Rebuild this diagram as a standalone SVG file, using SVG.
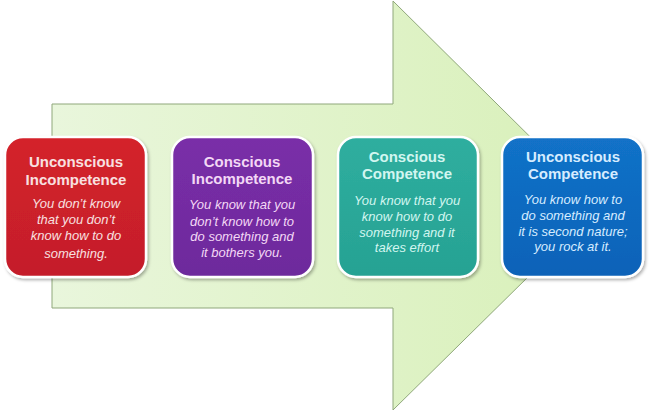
<svg xmlns="http://www.w3.org/2000/svg" width="650" height="416" viewBox="0 0 650 416">
<defs>
<linearGradient id="gArrow" x1="0" y1="0" x2="1" y2="0">
<stop offset="0" stop-color="#e9f6dc"/>
<stop offset="1" stop-color="#d8f0b8"/>
</linearGradient>
<linearGradient id="gRed" x1="0" y1="0" x2="0" y2="1">
<stop offset="0" stop-color="#d4222c"/>
<stop offset="1" stop-color="#c41e2a"/>
</linearGradient>
<linearGradient id="gPurple" x1="0" y1="0" x2="0" y2="1">
<stop offset="0" stop-color="#7a2ea8"/>
<stop offset="1" stop-color="#6d2a9c"/>
</linearGradient>
<linearGradient id="gTeal" x1="0" y1="0" x2="0" y2="1">
<stop offset="0" stop-color="#2fae9f"/>
<stop offset="1" stop-color="#26a293"/>
</linearGradient>
<linearGradient id="gBlue" x1="0" y1="0" x2="0" y2="1">
<stop offset="0" stop-color="#1272c8"/>
<stop offset="1" stop-color="#0b62b8"/>
</linearGradient>
<filter id="sh" x="-10%" y="-10%" width="125%" height="125%">
<feDropShadow dx="1.5" dy="2" stdDeviation="1.5" flood-color="#000" flood-opacity="0.3"/>
</filter>
<style>
.box{stroke:#ffffff;stroke-width:2.5;filter:url(#sh)}
.t{font-family:"Liberation Sans",Arial,sans-serif;font-weight:bold;font-size:15px;text-anchor:middle}
.b{font-family:"Liberation Sans",Arial,sans-serif;font-style:italic;font-size:13px;text-anchor:middle}
</style>
</defs>
<rect width="650" height="416" fill="#ffffff"/>
<g id="arrow">
<polygon points="52,104 393,104 393,1 600,206 393,410 393,308 52,308" fill="url(#gArrow)" stroke="#8fa77a" stroke-width="1"/>
</g>
<g id="connectors"/>
<g id="n1">
<rect class="box" x="5" y="137" width="141" height="140" rx="18" fill="url(#gRed)"/>
<g fill="#f8e0e0">
<text class="t" x="76" y="167">Unconscious</text>
<text class="t" x="76" y="185">Incompetence</text>
<text class="b" x="76" y="208">You don’t know</text>
<text class="b" x="76" y="224">that you don’t</text>
<text class="b" x="76" y="240">know how to do</text>
<text class="b" x="76" y="258">something.</text>
</g>
</g>
<g id="n2">
<rect class="box" x="172" y="137" width="141" height="140" rx="18" fill="url(#gPurple)"/>
<g fill="#f3d8f5">
<text class="t" x="242" y="167">Conscious</text>
<text class="t" x="242" y="184">Incompetence</text>
<text class="b" x="242" y="209">You know that you</text>
<text class="b" x="242" y="226">don’t know how to</text>
<text class="b" x="242" y="241">do something and</text>
<text class="b" x="242" y="257">it bothers you.</text>
</g>
</g>
<g id="n3">
<rect class="box" x="338" y="137" width="140" height="140" rx="18" fill="url(#gTeal)"/>
<g fill="#d2f6f0">
<text class="t" x="407" y="162">Conscious</text>
<text class="t" x="407" y="179">Competence</text>
<text class="b" x="407" y="205">You know that you</text>
<text class="b" x="407" y="221">know how to do</text>
<text class="b" x="407" y="237">something and it</text>
<text class="b" x="407" y="252">takes effort</text>
</g>
</g>
<g id="n4">
<rect class="box" x="502" y="137" width="141" height="140" rx="18" fill="url(#gBlue)"/>
<g fill="#d6ecff">
<text class="t" x="573" y="162">Unconscious</text>
<text class="t" x="573" y="179">Competence</text>
<text class="b" x="573" y="204">You know how to</text>
<text class="b" x="573" y="220">do something and</text>
<text class="b" x="573" y="236">it is second nature;</text>
<text class="b" x="573" y="251">you rock at it.</text>
</g>
</g>
</svg>
